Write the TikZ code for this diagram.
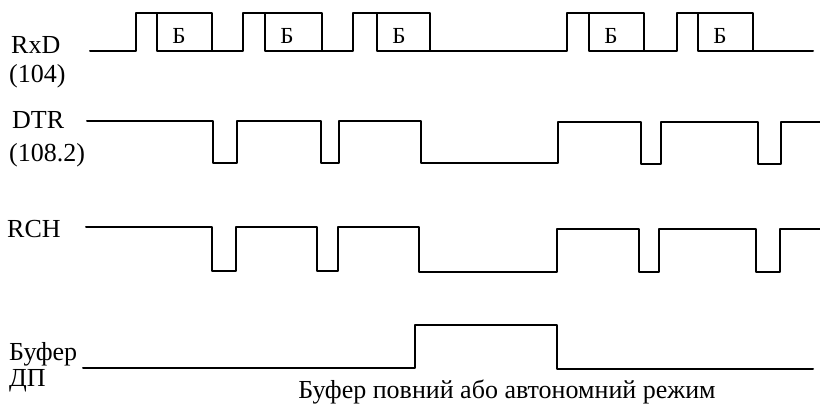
\documentclass[tikz,border=0pt]{standalone}
\usepackage{fontspec}
\setmainfont{Liberation Serif}
\begin{document}
\begin{tikzpicture}[x=1pt,y=-1pt,
  sig/.style={line width=2pt, line join=round, line cap=round},
  lbl/.style={anchor=base west, inner sep=0pt, font=\fontsize{26}{30}\selectfont},
  bits/.style={anchor=base, inner sep=0pt, font=\fontsize{23}{26}\selectfont}]
\useasboundingbox (0,0) rectangle (820,413);
% labels
\node[lbl] (rxd) at (11,53) {RxD};
\node[lbl] (rxdn) at (9,82) {(104)};
\node[lbl] (dtr) at (12,128) {DTR};
\node[lbl] (dtrn) at (9,161) {(108.2)};
\node[lbl] (rch) at (7,237) {RCH};
\node[lbl] (buf) at (9,360) {Буфер};
\node[lbl] (dp) at (9,386) {ДП};
\node[lbl, anchor=base] (note) at (507,398) {Буфер повний або автономний режим};
% RxD waveform
\draw[sig] (90,51) -- (136,51) -- (136,13) -- (212,13) -- (212,51) -- (243,51) -- (243,13) -- (322,13) -- (322,51)
  -- (353,51) -- (353,13) -- (430,13) -- (430,51) -- (567,51) -- (567,13) -- (644,13) -- (644,51)
  -- (677,51) -- (677,13) -- (753,13) -- (753,51) -- (813,51);
\foreach \l/\r [count=\i] in {157/212,265/322,377/430,589/644,698/753}{
  \draw[sig] (\l,13) -- (\l,51) -- (\r,51);
  \node[bits] (b\i) at (\l+22,43) {Б};
}
% DTR
\draw[sig] (87,121) -- (213,121) -- (213,163) -- (237,163) -- (237,121) -- (321,121) -- (321,163) -- (339,163)
  -- (339,121) -- (421,121) -- (421,163) -- (558,163) -- (558,122) -- (641,122) -- (641,164) -- (661,164)
  -- (661,122) -- (758,122) -- (758,164) -- (781,164) -- (781,122) -- (820,122);
% RCH
\draw[sig] (86,227) -- (212,227) -- (212,271) -- (236,271) -- (236,227) -- (317,227) -- (317,271) -- (338,271)
  -- (338,227) -- (419,227) -- (419,272) -- (557,272) -- (557,229) -- (639,229) -- (639,272) -- (659,272)
  -- (659,229) -- (756,229) -- (756,272) -- (780,272) -- (780,229) -- (820,229);
% Buffer
\draw[sig] (83,368) -- (415,368) -- (415,325) -- (557,325) -- (557,369) -- (813,369);
\end{tikzpicture}
\end{document}
